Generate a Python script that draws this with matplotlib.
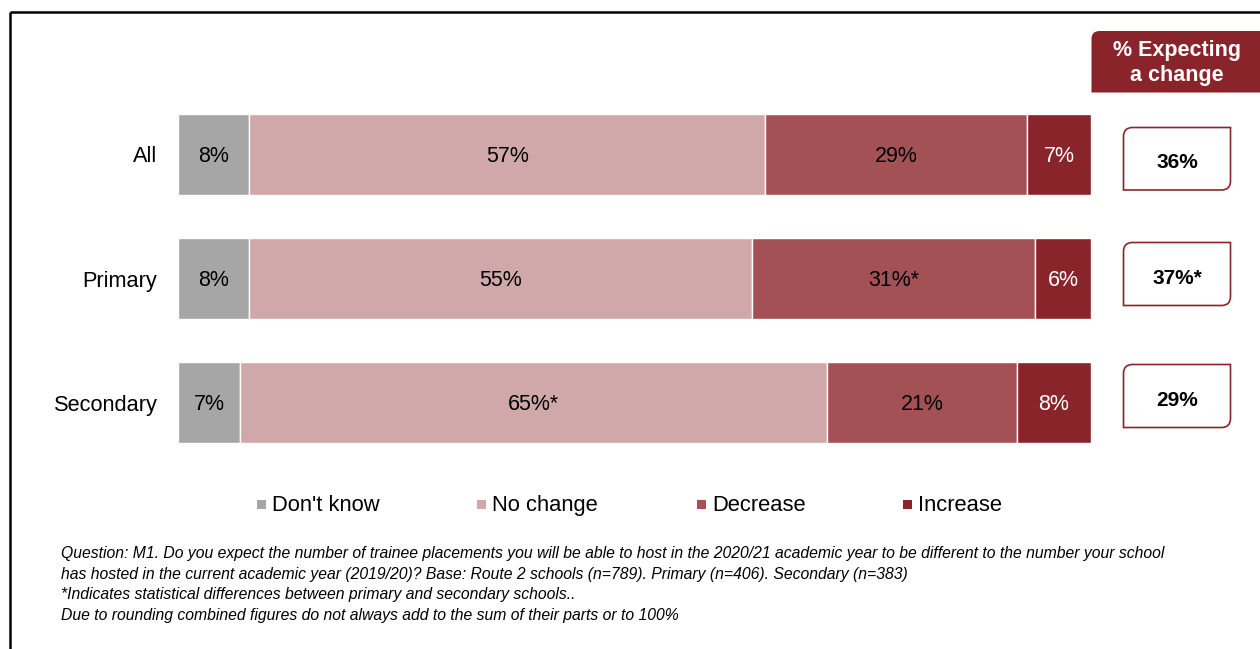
import matplotlib.pyplot as plt
import matplotlib
from matplotlib.path import Path
from matplotlib.patches import PathPatch, Rectangle

categories = ["All", "Primary", "Secondary"]
series = ["Don't know", "No change", "Decrease", "Increase"]

# bar lengths (unrounded shares, %)
dont_know = [7.8, 7.8, 6.8]
no_change = [56.5, 55.1, 64.3]
decrease = [28.7, 31.0, 20.8]
increase = [7.0, 6.1, 8.1]

# labels printed on the bars
dont_know_lbl = ["8%", "8%", "7%"]
no_change_lbl = ["57%", "55%", "65%*"]
decrease_lbl = ["29%", "31%*", "21%"]
increase_lbl = ["7%", "6%", "8%"]

expecting_change = ["36%", "37%*", "29%"]

colors = ["#A6A6A6", "#D1A8A9", "#A35155", "#8A242B"]
text_colors = ["black", "black", "black", "white"]
dark_red = "#8A242B"

footnotes = [
    "Question: M1. Do you expect the number of trainee placements you will be able to host in the 2020/21 "
    "academic year to be different to the number your school",
    "has hosted in the current academic year (2019/20)? Base: Route 2 schools (n=789). Primary (n=406). "
    "Secondary (n=383)",
    "*Indicates statistical differences between primary and secondary schools..",
    "Due to rounding combined figures do not always add to the sum of their parts or to 100%",
]


def two_corner_box(x0, y0, x1, y1, r):
    # box with rounded top-left and bottom-right corners (pixel coords, y down)
    verts = [(x0 + r, y0), (x1, y0), (x1, y1 - r), (x1, y1), (x1 - r, y1),
             (x0, y1), (x0, y0 + r), (x0, y0), (x0 + r, y0), (x0 + r, y0)]
    codes = [Path.MOVETO, Path.LINETO, Path.LINETO, Path.CURVE3, Path.CURVE3,
             Path.LINETO, Path.LINETO, Path.CURVE3, Path.CURVE3, Path.CLOSEPOLY]
    return Path(verts, codes)


def main():
    matplotlib.rcParams['font.family'] = ['Liberation Sans', 'DejaVu Sans']

    fig = plt.figure(figsize=(12.6, 6.49), dpi=100)

    # pixel overlay for frame, side boxes, legend and notes
    bg = fig.add_axes([0, 0, 1, 1])
    bg.set_xlim(0, 1260)
    bg.set_ylim(649, 0)
    bg.axis("off")

    bg.plot([10, 10], [649, 12], color="black", lw=1.8, solid_capstyle="butt")
    bg.plot([10, 1260], [12, 12], color="black", lw=1.8, solid_capstyle="butt")

    # header box
    bg.add_patch(PathPatch(two_corner_box(1091.5, 31, 1268, 92.5, 8),
                           facecolor=dark_red, edgecolor="none"))
    bg.text(1177, 63, "% Expecting\na change", ha="center", va="center",
            color="white", fontsize=15.5, fontweight="bold", linespacing=1.25)

    box_y = [(127.5, 190), (242.5, 305.5), (364.5, 427.5)]
    for (y0, y1), val in zip(box_y, expecting_change):
        bg.add_patch(PathPatch(two_corner_box(1123.5, y0, 1230.5, y1, 9),
                               facecolor="white", edgecolor=dark_red, lw=1.2))
        bg.text(1177, (y0 + y1) / 2 + 2, val, ha="center", va="center_baseline",
                fontsize=15, fontweight="bold", color="black")

    # legend
    legend_x = [257, 477, 697, 903]
    for x, name, color in zip(legend_x, series, colors):
        bg.add_patch(Rectangle((x, 500), 9, 8.5, facecolor=color, edgecolor="none"))
        bg.text(x + 15.5, 511, name, ha="left", va="baseline", fontsize=15.8, color="black")

    for i, line in enumerate(footnotes):
        bg.text(61, 558 + i * 20.7, line, ha="left", va="baseline",
                fontsize=11.35, style="italic", color="black")

    # stacked bars
    ax = fig.add_axes([178 / 1260, 1 - 464.5 / 649, 913 / 1260, 372 / 649])
    ax.patch.set_visible(False)
    ax.set_xlim(0, 100)
    ax.set_ylim(2.5, -0.5)
    for s in ax.spines.values():
        s.set_visible(False)
    ax.set_xticks([])
    ax.set_yticks(range(len(categories)))
    ax.set_yticklabels(categories, fontsize=15.7)
    ax.tick_params(axis="y", length=0, pad=14.8)

    values = [dont_know, no_change, decrease, increase]
    labels = [dont_know_lbl, no_change_lbl, decrease_lbl, increase_lbl]
    left = [0.0] * len(categories)
    for vals, lbls, color, tcolor, name in zip(values, labels, colors, text_colors, series):
        ax.barh(range(len(categories)), vals, left=left, height=0.655,
                color=color, edgecolor="white", linewidth=1, label=name)
        for j, (v, lb) in enumerate(zip(vals, lbls)):
            ax.text(left[j] + v / 2, j, lb, ha="center", va="center_baseline",
                    fontsize=15.5, color=tcolor)
        left = [a + b for a, b in zip(left, vals)]

    fig.savefig("out.png", dpi=100)


if __name__ == "__main__":
    main()
